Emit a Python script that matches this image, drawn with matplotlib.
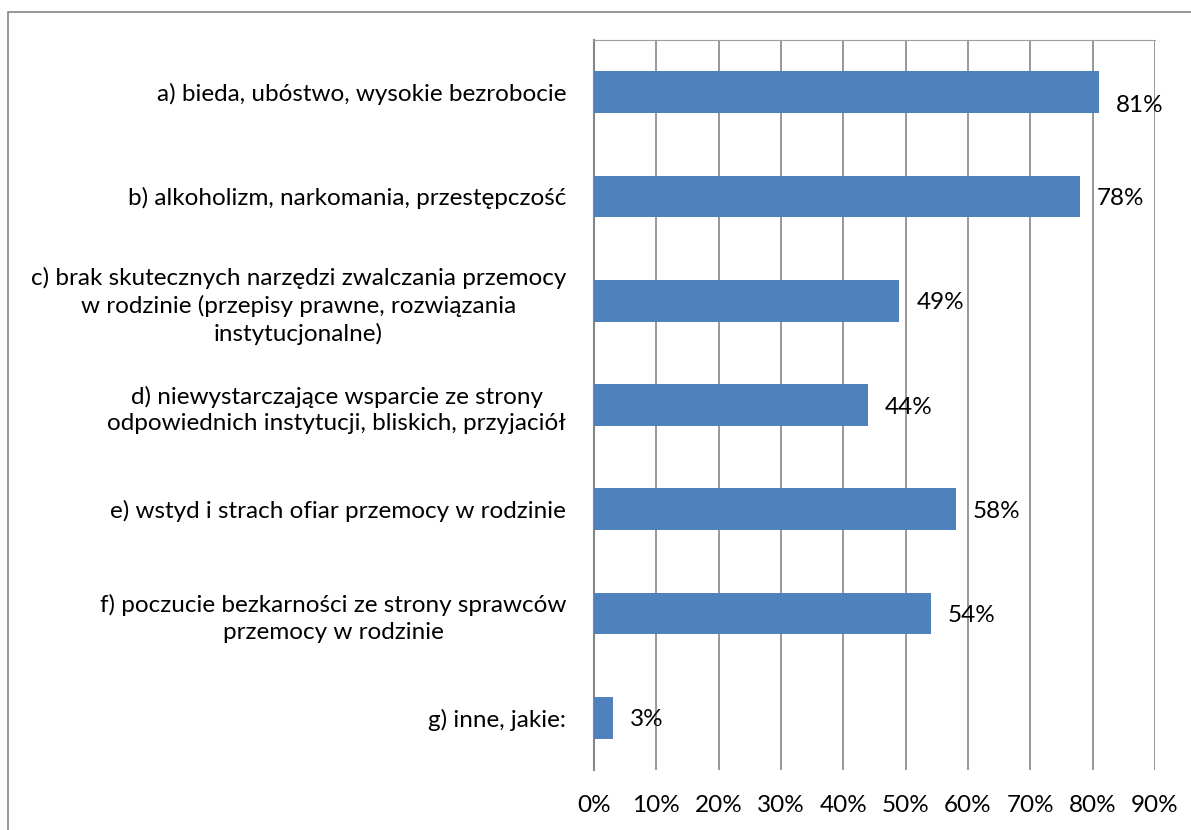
import numpy as np
import matplotlib.pyplot as plt
from matplotlib.patches import Rectangle
from matplotlib.ticker import MultipleLocator, FuncFormatter

plt.rcParams['font.family'] = ['Lato', 'DejaVu Sans']

labels = [
    "a) bieda, ubóstwo, wysokie bezrobocie",
    "b) alkoholizm, narkomania, przestępczość",
    "c) brak skutecznych narzędzi zwalczania przemocy\nw rodzinie (przepisy prawne, rozwiązania\ninstytucjonalne)",
    "d) niewystarczające wsparcie ze strony\nodpowiednich instytucji, bliskich, przyjaciół",
    "e) wstyd i strach ofiar przemocy w rodzinie",
    "f) poczucie bezkarności ze strony sprawców\nprzemocy w rodzinie",
    "g) inne, jakie:",
]
values = [0.81, 0.78, 0.49, 0.44, 0.58, 0.54, 0.03]

fig = plt.figure(figsize=(11.91, 8.30), dpi=100)
ax = fig.add_axes([0.4987, 0.0723, 0.9698 - 0.4987, 0.9518 - 0.0723])

# outer chart border
fig.patches.append(Rectangle((8 / 1191, -0.05), 1.1, 1 - 12 / 830 + 0.05,
                             transform=fig.transFigure, fill=False,
                             edgecolor='#868686', linewidth=1.2))

y = np.arange(len(labels))
ax.barh(y, values, height=0.4, color='#4F81BD', zorder=3)
for i, (yi, v) in enumerate(zip(y, values)):
    # the first label sits a bit lower in the original (clear of the 80% line)
    dy = 0.13 if i == 0 else 0.02
    ax.text(v + 0.027, yi + dy, f"{round(v * 100)}%", va='center', ha='left',
            fontsize=17.5, zorder=4)

ax.set_xlim(0, 0.9)
ax.set_ylim(len(labels) - 0.5, -0.5)
ax.xaxis.set_major_locator(MultipleLocator(0.1))
ax.xaxis.set_major_formatter(FuncFormatter(lambda x, p: f"{round(x * 100)}%"))
ax.grid(axis='x', color='#868686', linewidth=1.2, zorder=0)
ax.tick_params(axis='x', length=0, labelsize=17.5, pad=18)
ax.tick_params(axis='y', length=0, labelsize=17.5, pad=20)
ax.set_yticks(y)
ax.set_yticklabels(labels)
for t in ax.get_yticklabels():
    t.set_multialignment('center')
    t.set_linespacing(1.35)

ax.spines['bottom'].set_visible(False)
ax.spines['right'].set_visible(False)
ax.spines['top'].set_color('#A0A0A0')
ax.spines['left'].set_color('#868686')
ax.spines['left'].set_linewidth(1.5)

fig.savefig('out.png', dpi=100)
